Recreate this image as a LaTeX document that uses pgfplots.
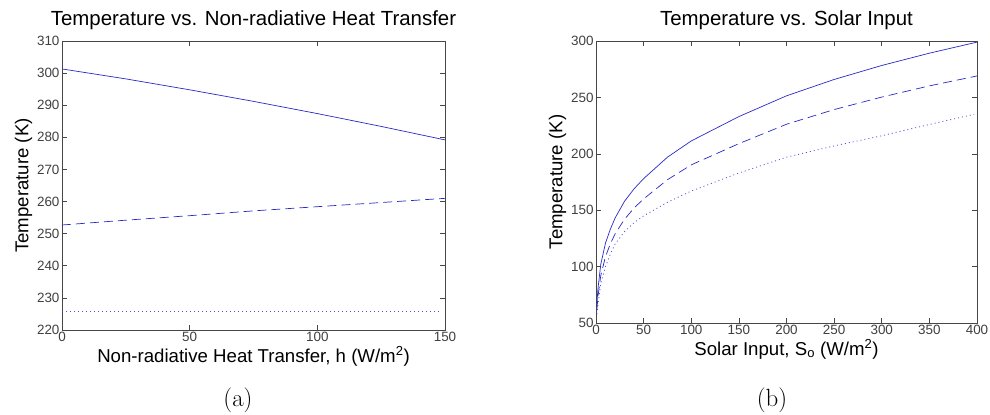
\documentclass[border=0pt]{standalone}
\usepackage{fontspec}
\setsansfont{Liberation Sans}
\usepackage{pgfplots}
\pgfplotsset{compat=1.18}
\definecolor{mblue}{RGB}{40,40,200}
\definecolor{dblue}{RGB}{80,80,220}
\definecolor{axgray}{RGB}{70,70,70}
\pgfplotsset{
  mystyle/.style={
    scale only axis,
    axis line style={axgray, line width=0.8pt},
    tick style={axgray, line width=0.6pt},
    tick align=inside,
    major tick length=5bp,
    /pgf/number format/assume math mode=true,
    tick label style={font=\sffamily\fontsize{13.5}{15}\selectfont, text=black!75},
    label style={font=\sffamily\fontsize{18.7}{21}\selectfont},
    title style={font=\sffamily\fontsize{20.5}{23}\selectfont},
    xticklabel style={yshift=1bp},
    yticklabel style={xshift=1bp},
    scaled ticks=false,
    clip=false,
  }
}
\begin{document}
\begin{tikzpicture}
\useasboundingbox (0bp,0bp) rectangle (990bp,415bp);
\begin{axis}[mystyle,
  at={(62bp,85bp)}, anchor=south west,
  width=383bp, height=289bp,
  xmin=0, xmax=150, ymin=220, ymax=310,
  xtick={0,50,100,150},
  ytick={220,230,240,250,260,270,280,290,300,310},
  title={Temperature vs. Non-radiative Heat Transfer},
  title style={at={(0.5,1)}, anchor=south, yshift=2bp},
  xlabel={Non-radiative Heat Transfer, h (W/m\textsuperscript{2})},
  xlabel style={yshift=2bp},
  ylabel={Temperature (K)},
  ylabel style={yshift=-2bp},
]
\addplot[mblue, line width=0.7pt, solid] coordinates {(0,301.3) (25,298.2) (50,294.8) (75,291.2) (100,287.4) (125,283.4) (150,279.2)};
\addplot[mblue, line width=0.7pt, dash pattern=on 9bp off 5bp] coordinates {(0,252.7) (25,254.2) (50,255.6) (75,257.1) (100,258.4) (125,259.7) (150,261.0)};
\addplot[dblue, line width=0.8pt, dash pattern=on 1bp off 3bp] coordinates {(0,225.7) (50,225.7) (100,225.7) (148,225.7)};
\end{axis}
\begin{axis}[mystyle,
  at={(596bp,92bp)}, anchor=south west,
  width=381bp, height=282bp,
  xmin=0, xmax=400, ymin=50, ymax=300,
  xtick={0,50,100,150,200,250,300,350,400},
  ytick={50,100,150,200,250,300},
  title={Temperature vs. Solar Input},
  title style={at={(0.5,1)}, anchor=south, yshift=2bp},
  xlabel={Solar Input, S\textsubscript{o} (W/m\textsuperscript{2})},
  xlabel style={yshift=2bp},
  ylabel={Temperature (K)},
  ylabel style={yshift=-2bp},
]
\addplot[mblue, line width=0.7pt, solid] coordinates {(1,68) (2,80) (5,102) (10,121) (15,133) (20,143) (30,158) (40,169) (50,178) (75,197) (100,211.4) (150,233) (200,251.4) (250,265.9) (300,278.3) (350,289.2) (400,299.0)};
\addplot[mblue, line width=0.7pt, dash pattern=on 9bp off 5bp] coordinates {(1,62) (2,73) (5,92) (10,109) (15,120) (20,129) (30,142) (40,152) (50,160) (75,177) (100,190.2) (150,209) (200,226.2) (250,239.2) (300,250.3) (350,260.2) (400,269.0)};
\addplot[dblue, line width=0.8pt, dash pattern=on 1bp off 3bp] coordinates {(1,58) (2,66) (5,85) (10,100) (15,111) (20,120) (30,131) (40,139) (50,145) (75,157) (100,167) (150,183) (200,197) (250,207) (300,216) (350,226) (397,235)};
\end{axis}
\node[font=\rmfamily\fontsize{25}{28}\selectfont] at (238bp,15bp) {(a)};
\node[font=\rmfamily\fontsize{25}{28}\selectfont] at (772bp,15bp) {(b)};
\end{tikzpicture}
\end{document}
